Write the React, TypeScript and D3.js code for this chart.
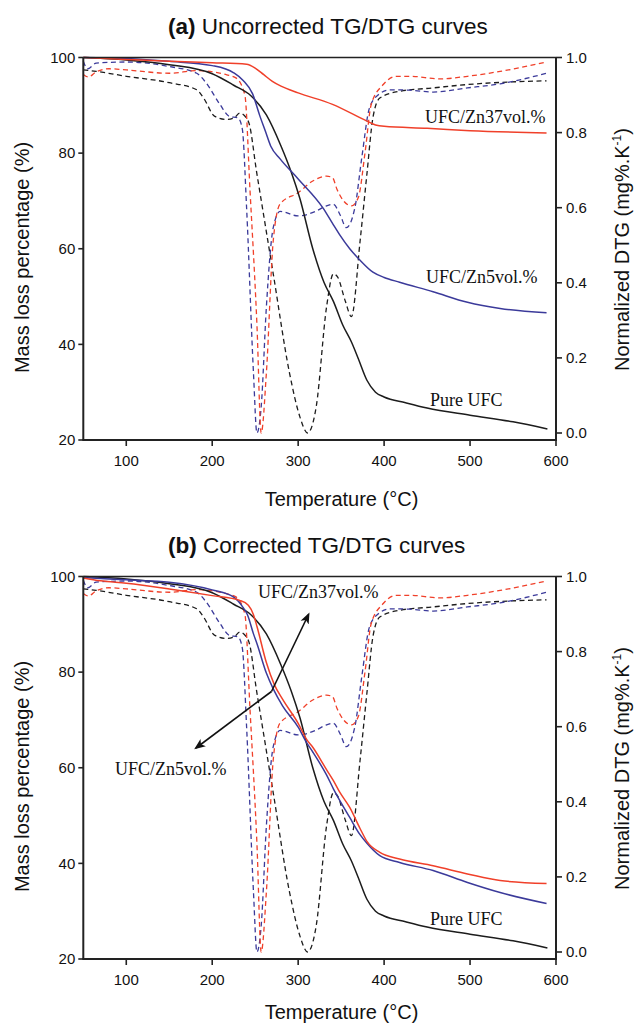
import React from "react";
import * as d3 from "d3";

type Pt = [number, number];

// ---- Data (temperature °C, value) ----
const pureTG: Pt[] = [[50,100],[100,99.5],[150,98.5],[200,96.6],[225,94.2],[245,92],[263,88],[280,81.5],[292,76],[302,70.5],[317,60],[330,53],[341,49],[352,44],[362,40.5],[370,37],[380,32.5],[390,30],[400,29],[425,27.8],[450,26.7],[500,25.2],[550,23.8],[590,22.3]];

const zn5TGRaw: Pt[] = [[50,100],[100,99.8],[150,99.2],[200,98.3],[225,96.8],[236,95.2],[247,92.4],[255,88],[262,84.5],[268,81.5],[279,78.8],[300,74.6],[329,68.5],[341,65],[348,63],[360,60],[372,57.6],[387,55.1],[400,54],[418,53],[457,51],[497,48.8],[535,47.5],[589,46.6]];

const zn37TGRaw: Pt[] = [[50,100],[100,99.6],[150,99.2],[200,98.9],[240,98.6],[250,97.8],[260,96.4],[270,95],[280,94],[300,92.6],[340,90.2],[380,86.7],[390,85.9],[400,85.6],[450,85.2],[500,84.7],[589,84.2]];

const zn5TGCorr: Pt[] = [[50,99.8],[70,99.6],[100,99.3],[150,98.8],[200,97.2],[225,95.7],[236,93.5],[241,92],[248,88],[252,86],[263,79.8],[271,76.5],[282,72.9],[300,68.5],[310,65.2],[317,63.3],[333,58.5],[341,55.6],[360,49.6],[372,46],[380,44.2],[395,41.6],[418,40.2],[457,38.5],[497,36],[535,33.9],[589,31.6]];

const zn37TGCorr: Pt[] = [[50,99.7],[70,99.1],[100,98.6],[150,97.4],[200,96],[232,95],[242,94],[248,92],[252,89.6],[263,82],[272,77.5],[282,74.3],[300,69.3],[310,65.9],[317,64.3],[333,59.6],[341,57.3],[348,55],[360,51.7],[372,47.3],[380,44.6],[395,42.3],[418,40.9],[457,39.5],[497,37.8],[535,36.4],[589,35.8]];

const pureDTG: Pt[] = [[50,0.967],[65,0.963],[100,0.95],[150,0.933],[182,0.914],[190,0.892],[203,0.843],[217,0.835],[226,0.84],[232,0.852],[242,0.83],[252,0.69],[271,0.424],[290,0.159],[302,0.043],[311,0.0],[321,0.07],[333,0.335],[341,0.424],[346,0.415],[355,0.35],[362,0.31],[372,0.51],[380,0.69],[387,0.84],[395,0.892],[418,0.91],[457,0.919],[497,0.928],[589,0.938]];

const zn5DTG: Pt[] = [[50,0.99],[55,0.97],[65,0.985],[100,0.988],[150,0.976],[182,0.958],[193,0.932],[209,0.875],[220,0.843],[230,0.839],[235,0.81],[240,0.6],[248,0.16],[252,0.0],[257,0.07],[263,0.335],[271,0.547],[279,0.59],[300,0.578],[320,0.59],[333,0.605],[341,0.609],[349,0.58],[356,0.547],[366,0.6],[374,0.733],[383,0.866],[393,0.9],[407,0.914],[430,0.913],[457,0.908],[497,0.919],[535,0.93],[589,0.958]];

const zn37DTG: Pt[] = [[50,0.955],[56,0.948],[65,0.962],[80,0.97],[100,0.967],[150,0.958],[182,0.965],[217,0.954],[228,0.945],[238,0.9],[244,0.645],[252,0.29],[257,0.0],[263,0.159],[271,0.512],[279,0.61],[300,0.64],[317,0.671],[333,0.684],[340,0.68],[345,0.65],[362,0.605],[370,0.627],[378,0.75],[385,0.875],[399,0.928],[414,0.95],[430,0.95],[465,0.943],[497,0.95],[535,0.963],[589,0.988]];

const xTicks = [100, 200, 300, 400, 500, 600];
const yLeftTicks = [20, 40, 60, 80, 100];
const yRightTicks = [0, 0.2, 0.4, 0.6, 0.8, 1.0];

const RED = "#f0402a";
const BLUE = "#3b3a9a";
const BLACK = "#1c1c1c";
const SANS = "'Liberation Sans', Arial, sans-serif";
const SERIF = "'Liberation Serif', 'Times New Roman', serif";

const X0 = 83.3, X1 = 556;
const xScale = d3.scaleLinear().domain([50, 600]).range([X0, X1]);

type PanelProps = {
  top: number;
  letter: string;
  title: string;
  zn5TG: Pt[];
  zn37TG: Pt[];
  corrected: boolean;
  tempY: number;
};

function Panel({ top, letter, title, zn5TG, zn37TG, corrected, tempY }: PanelProps) {
  const bottom = top + 382.5;
  const yL = d3.scaleLinear().domain([20, 100]).range([bottom, top]);
  const yR = d3.scaleLinear().domain([0, 1]).range([top + 375.5, top]);
  const lineL = d3.line<Pt>().x(d => xScale(d[0])).y(d => yL(d[1])).curve(d3.curveMonotoneX);
  const lineR = d3.line<Pt>().x(d => xScale(d[0])).y(d => yR(d[1])).curve(d3.curveMonotoneX);
  const dash = "5,3.5";
  return (
    <g>
      <text x={168} y={top - 23.5} fontFamily={SANS} fontSize={22.5} fill="#111">
        <tspan fontWeight="bold">({letter})</tspan> {title}
      </text>
      {/* DTG dashed */}
      <path d={lineR(pureDTG) || ""} fill="none" stroke={BLACK} strokeWidth={1.3} strokeDasharray={dash} />
      <path d={lineR(zn5DTG) || ""} fill="none" stroke={BLUE} strokeWidth={1.3} strokeDasharray={dash} />
      <path d={lineR(zn37DTG) || ""} fill="none" stroke={RED} strokeWidth={1.3} strokeDasharray={dash} />
      {/* TG solid */}
      <path d={lineL(pureTG) || ""} fill="none" stroke={BLACK} strokeWidth={1.5} />
      <path d={lineL(zn5TG) || ""} fill="none" stroke={BLUE} strokeWidth={1.5} />
      <path d={lineL(zn37TG) || ""} fill="none" stroke={RED} strokeWidth={1.5} />
      {/* frame */}
      <line x1={X0} x2={X1} y1={top} y2={top} stroke="#222" strokeWidth={1.6} />
      <line x1={X0} x2={X0} y1={top} y2={bottom} stroke="#222" strokeWidth={2} />
      <line x1={X1} x2={X1} y1={top} y2={bottom} stroke="#222" strokeWidth={2} />
      <line x1={X0 - 1} x2={X1 + 1} y1={bottom} y2={bottom} stroke="#222" strokeWidth={2} />
      {/* left ticks */}
      {yLeftTicks.map(t => (
        <g key={"l" + t}>
          <line x1={X0 - 5} x2={X0} y1={yL(t)} y2={yL(t)} stroke="#222" strokeWidth={1.6} />
          <text x={X0 - 8} y={yL(t) + 5.3} textAnchor="end" fontFamily={SANS} fontSize={15} fill="#111">{t}</text>
        </g>
      ))}
      {/* right ticks */}
      {yRightTicks.map(t => (
        <g key={"r" + t}>
          <line x1={X1} x2={X1 + 6} y1={yR(t)} y2={yR(t)} stroke="#222" strokeWidth={1.6} />
          <text x={X1 + 10} y={yR(t) + 5.3} textAnchor="start" fontFamily={SANS} fontSize={15} fill="#111">{t.toFixed(1)}</text>
        </g>
      ))}
      {/* bottom ticks */}
      {xTicks.map(t => (
        <g key={"b" + t}>
          <line x1={xScale(t)} x2={xScale(t)} y1={bottom} y2={bottom + 6} stroke="#222" strokeWidth={1.6} />
          <text x={xScale(t)} y={bottom + 26} textAnchor="middle" fontFamily={SANS} fontSize={15} fill="#111">{t}</text>
        </g>
      ))}
      <text x={341.5} y={tempY} textAnchor="middle" fontFamily={SANS} fontSize={20} fill="#111">Temperature (°C)</text>
      <text transform={`translate(29, ${top + 200}) rotate(-90)`} textAnchor="middle" fontFamily={SANS} fontSize={20} fill="#111">Mass loss percentage (%)</text>
      <text transform={`translate(629, ${top + 192}) rotate(-90)`} textAnchor="middle" fontFamily={SANS} fontSize={20} fill="#111">
        Normalized DTG (mg%.K<tspan fontSize={12} dy={-8}>-1</tspan><tspan dy={8}>)</tspan>
      </text>
      {/* annotations */}
      {!corrected ? (
        <g fontFamily={SERIF} fontSize={18} fill="#111">
          <text x={425} y={top + 65.5}>UFC/Zn37vol.%</text>
          <text x={426} y={top + 225.5}>UFC/Zn5vol.%</text>
          <text x={430} y={top + 348.5}>Pure UFC</text>
        </g>
      ) : (
        <g fontFamily={SERIF} fontSize={18} fill="#111">
          <text x={258} y={top + 21.5}>UFC/Zn37vol.%</text>
          <text x={115} y={top + 198.5}>UFC/Zn5vol.%</text>
          <text x={430} y={top + 348.5}>Pure UFC</text>
          <line x1={271.5} y1={top + 115} x2={196} y2={top + 171.5} stroke="#111" strokeWidth={1.6} markerEnd="url(#arr)" />
          <line x1={271.5} y1={top + 115} x2={308.5} y2={top + 38} stroke="#111" strokeWidth={1.6} markerEnd="url(#arr)" />
        </g>
      )}
    </g>
  );
}

export default function App() {
  return (
    <svg width={635} height={1024} style={{ position: "absolute", left: 0, top: 0, background: "#fff" }}>
      <defs>
        <marker id="arr" viewBox="0 0 10 10" refX={8} refY={5} markerWidth={7} markerHeight={7} orient="auto" markerUnits="strokeWidth">
          <path d="M0,1 L10,5 L0,9 L2.5,5 Z" fill="#111" />
        </marker>
      </defs>
      <rect x={0} y={0} width={635} height={1024} fill="#fff" />
      <Panel top={57.5} letter="a" title="Uncorrected TG/DTG curves" zn5TG={zn5TGRaw} zn37TG={zn37TGRaw} corrected={false} tempY={506} />
      <Panel top={576.5} letter="b" title="Corrected TG/DTG curves" zn5TG={zn5TGCorr} zn37TG={zn37TGCorr} corrected={true} tempY={1019} />
    </svg>
  );
}
